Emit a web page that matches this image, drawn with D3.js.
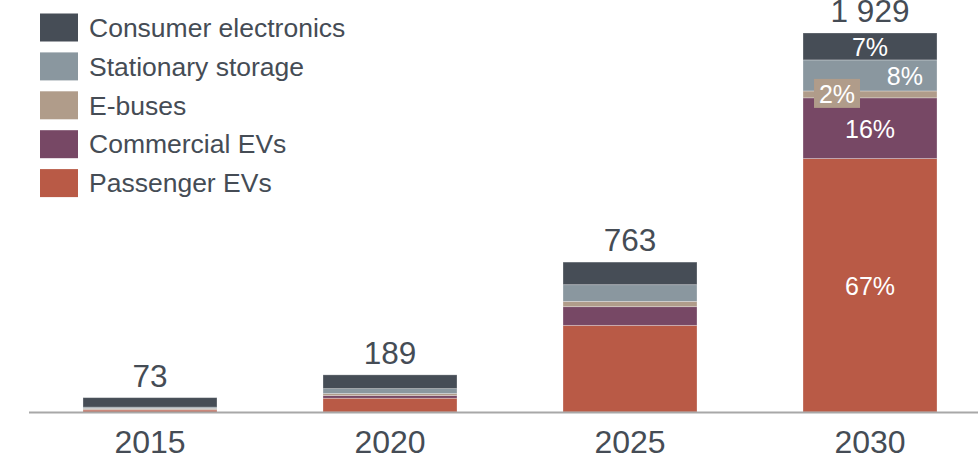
<!DOCTYPE html>
<html>
<head>
<meta charset="utf-8">
<script src="https://cdn.jsdelivr.net/npm/d3@7"></script>
<style>
  html, body { margin: 0; padding: 0; background: #fff; }
  svg { display: block; font-family: "Liberation Sans", Arial, sans-serif; }
</style>
</head>
<body>
<svg id="chart" width="978" height="455"></svg>
<script>
// Battery demand by application (GWh), stacked per year
const years = ["2015", "2020", "2025", "2030"];
const seriesNames = ["Passenger EVs", "Commercial EVs", "E-buses", "Stationary storage", "Consumer electronics"];
const passengerEVs = [10, 70, 441, 1290];
const commercialEVs = [2, 14, 95, 309];
const eBuses = [6, 10, 27, 35];
const stationaryStorage = [7, 25, 85, 158];
const consumerElectronics = [48, 70, 115, 137];
const legendOrder = ["Consumer electronics", "Stationary storage", "E-buses", "Commercial EVs", "Passenger EVs"];

const colors = {
  "Passenger EVs": "#b95a46",
  "Commercial EVs": "#774865",
  "E-buses": "#b09c8a",
  "Stationary storage": "#8a979f",
  "Consumer electronics": "#464d56"
};
const textColor = "#454c55";

const rows = years.map((yr, i) => ({
  year: yr,
  "Passenger EVs": passengerEVs[i],
  "Commercial EVs": commercialEVs[i],
  "E-buses": eBuses[i],
  "Stationary storage": stationaryStorage[i],
  "Consumer electronics": consumerElectronics[i]
}));
rows.forEach(r => r.total = d3.sum(seriesNames, k => r[k]));

const svg = d3.select("#chart");
const baseY = 412;

const x = d3.scaleBand().domain(years).range([30, 990]).paddingInner(0.4417).paddingOuter(0.2208);
const y = d3.scaleLinear().domain([0, d3.max(rows, r => r.total)]).range([baseY, 33]);

const stack = d3.stack().keys(seriesNames);
const layers = stack(rows);

// stacked bars
const g = svg.append("g");
g.selectAll("g.layer").data(layers).join("g")
  .attr("class", "layer")
  .attr("fill", d => colors[d.key])
  .selectAll("rect").data(d => d).join("rect")
  .attr("x", d => x(d.data.year))
  .attr("width", x.bandwidth())
  .attr("y", d => y(d[1]))
  .attr("height", d => y(d[0]) - y(d[1]))
  .attr("stroke", "#ffffff")
  .attr("stroke-opacity", 0.35)
  .attr("stroke-width", 0.8);

// baseline
svg.append("line")
  .attr("x1", 29).attr("x2", 978)
  .attr("y1", baseY + 0.5).attr("y2", baseY + 0.5)
  .attr("stroke", "#a8a8a8").attr("stroke-width", 2);

// year axis
const axis = svg.append("g")
  .attr("transform", `translate(0,${baseY})`)
  .call(d3.axisBottom(x).tickSize(0).tickPadding(18));
axis.select(".domain").remove();
axis.selectAll("text")
  .attr("fill", textColor)
  .style("font-size", "32px")
  .style("font-family", "'Liberation Sans', Arial, sans-serif");

// totals above bars
const fmt = d3.formatLocale({ decimal: ".", thousands: "\u00a0", grouping: [3], currency: ["", ""] }).format(",d");
svg.append("g").selectAll("text").data(rows).join("text")
  .attr("x", d => x(d.year) + x.bandwidth() / 2)
  .attr("y", d => y(d.total) - 11)
  .attr("text-anchor", "middle")
  .attr("fill", textColor)
  .style("font-size", "31.5px")
  .text(d => fmt(d.total));

// percentage shares for the final year
const last = rows[rows.length - 1];
const lastIdx = rows.length - 1;
const bx = x(last.year), bw = x.bandwidth(), cx = bx + bw / 2;
const pctG = svg.append("g").style("font-size", "25px").attr("fill", "#ffffff");
layers.forEach(layer => {
  const seg = layer[lastIdx];
  const share = Math.round(100 * (seg[1] - seg[0]) / last.total) + "%";
  const midY = (y(seg[0]) + y(seg[1])) / 2;
  if (layer.key === "E-buses") {
    // thin slice: label in a tag overlapping the slice
    const tx = bx + 34, ty = midY - 0.5;
    pctG.append("rect")
      .attr("x", tx - 23).attr("y", ty - 15)
      .attr("width", 46).attr("height", 29)
      .attr("fill", colors["E-buses"]);
    pctG.append("text").attr("x", tx).attr("y", ty).attr("dy", "0.35em")
      .attr("text-anchor", "middle").text(share);
  } else if (layer.key === "Stationary storage") {
    pctG.append("text").attr("x", bx + bw - 14).attr("y", midY + 1).attr("dy", "0.35em")
      .attr("text-anchor", "end").text(share);
  } else {
    pctG.append("text").attr("x", cx).attr("y", midY + 1).attr("dy", "0.35em")
      .attr("text-anchor", "middle").text(share);
  }
});

// legend
const leg = svg.append("g").selectAll("g").data(legendOrder).join("g")
  .attr("transform", (d, i) => `translate(40,${13.5 + i * 38.9})`);
leg.append("rect").attr("width", 38).attr("height", 28).attr("fill", d => colors[d]);
leg.append("text").attr("x", 49).attr("y", 14).attr("dy", "0.35em")
  .attr("fill", textColor).style("font-size", "26.5px").text(d => d);
</script>
</body>
</html>
